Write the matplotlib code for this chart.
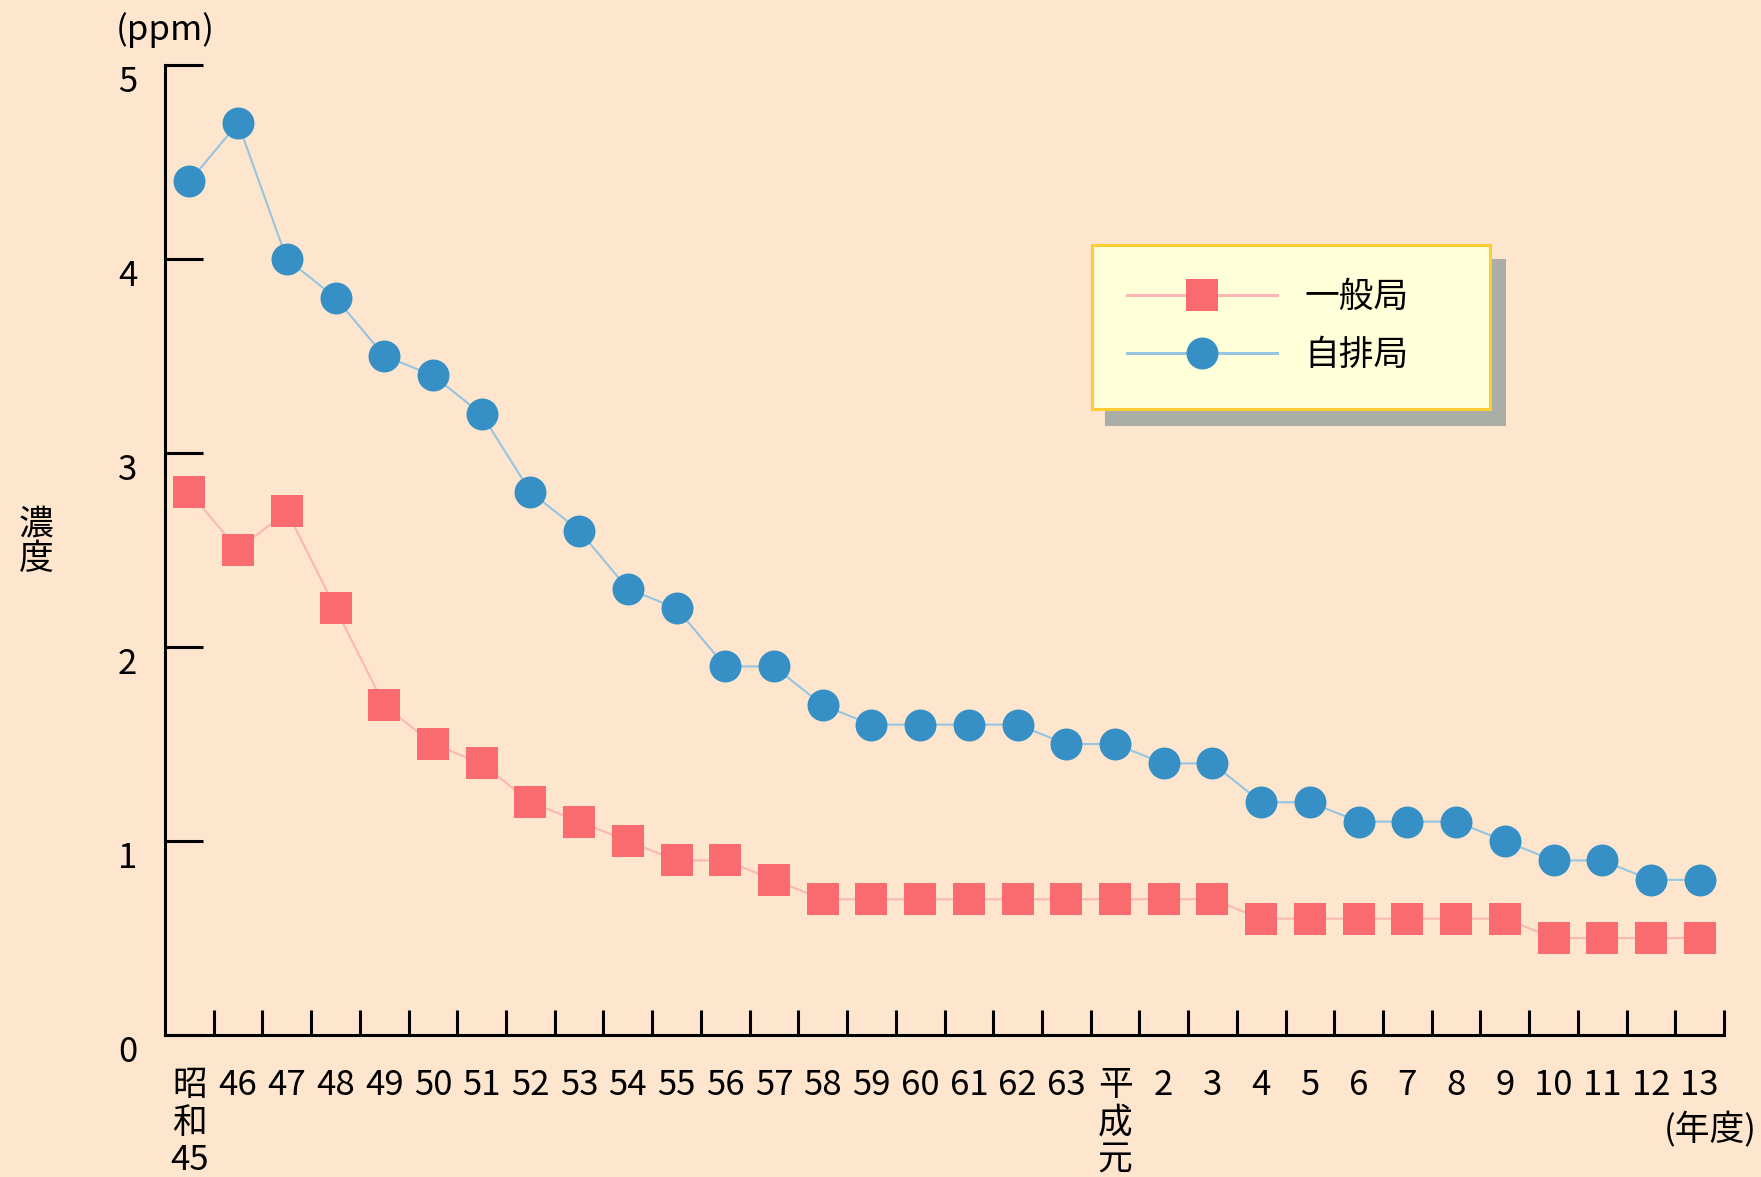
import matplotlib
matplotlib.use("Agg")
import matplotlib.pyplot as plt

plt.rcParams['font.family'] = ['Noto Sans CJK JP', 'DejaVu Sans']

# 年度ラベル（昭和45〜63、平成元〜13）
years = ["昭\n和\n45", "46", "47", "48", "49", "50", "51", "52", "53", "54",
         "55", "56", "57", "58", "59", "60", "61", "62", "63",
         "平\n成\n元", "2", "3", "4", "5", "6", "7", "8", "9",
         "10", "11", "12", "13"]

# 一般局 (ppm)
general = [2.8, 2.5, 2.7, 2.2, 1.7, 1.5, 1.4, 1.2, 1.1, 1.0,
           0.9, 0.9, 0.8, 0.7, 0.7, 0.7, 0.7, 0.7, 0.7,
           0.7, 0.7, 0.7, 0.6, 0.6, 0.6, 0.6, 0.6, 0.6,
           0.5, 0.5, 0.5, 0.5]

# 自排局 (ppm)
roadside = [4.4, 4.7, 4.0, 3.8, 3.5, 3.4, 3.2, 2.8, 2.6, 2.3,
            2.2, 1.9, 1.9, 1.7, 1.6, 1.6, 1.6, 1.6, 1.5,
            1.5, 1.4, 1.4, 1.2, 1.2, 1.1, 1.1, 1.1, 1.0,
            0.9, 0.9, 0.8, 0.8]

yticks = [0, 1, 2, 3, 4, 5]

BG = '#FDE5CE'
FS = 25

fig = plt.figure(figsize=(17.61, 11.77), dpi=100, facecolor=BG)
ax = fig.add_axes([0.0937, 0.1206, 0.979 - 0.0937, 0.9448 - 0.1206])
ax.set_facecolor(BG)

x = list(range(len(years)))
ax.plot(x, general, color='#FAB8B4', lw=1.5, marker='s', ms=23,
        mfc='#F96B6F', mec='#F96B6F', mew=0, label='一般局', zorder=3)
ax.plot(x, roadside, color='#96C5E1', lw=1.5, marker='o', ms=23,
        mfc='#3790C5', mec='#3790C5', mew=0, label='自排局', zorder=3)

ax.set_xlim(-0.5, len(years) - 0.5)
ax.set_ylim(0, 5)

for side in ('top', 'right'):
    ax.spines[side].set_visible(False)
for side in ('left', 'bottom'):
    ax.spines[side].set_linewidth(2.2)
    ax.spines[side].set_color('black')

ax.set_yticks(yticks)
ax.set_yticklabels([str(v) for v in yticks], fontsize=FS)
ax.tick_params(axis='y', direction='in', length=27, width=2.2, pad=20)
for lab in ax.get_yticklabels():
    lab.set_verticalalignment('top')

ax.set_xticks(x)
ax.set_xticklabels(years, fontsize=FS, va='top', linespacing=1.08)
ax.tick_params(axis='x', which='major', length=0, pad=24)
ax.set_xticks([i + 0.5 for i in x], minor=True)
ax.tick_params(axis='x', which='minor', direction='in', length=18, width=2.2)

fig.text(116 / 1761, 1 - 30 / 1177, '(ppm)', fontsize=FS, ha='left', va='center')
fig.text(36 / 1761, 1 - 543 / 1177, '濃\n度', fontsize=FS, ha='center', va='center',
         linespacing=0.95)
fig.text(1757 / 1761, 1 - 1130 / 1177, '(年度)', fontsize=FS, ha='right', va='center')

leg = ax.legend(loc='upper left',
                bbox_to_anchor=((1092 - 165) / 1559, (1035 - 245) / 970, 398 / 1559, 0),
                mode='expand', fontsize=FS, frameon=True, fancybox=False,
                framealpha=1, facecolor='#FFFFD9', edgecolor='#FFCC33',
                handlelength=4.3, handletextpad=0.8, borderpad=1.02,
                labelspacing=0.66, borderaxespad=0,
                shadow={'ox': 10, 'oy': -11, 'facecolor': '#AAAEA6',
                        'edgecolor': '#AAAEA6', 'alpha': 1})
leg.get_frame().set_linewidth(2.2)
for line in leg.get_lines():
    line.set_linewidth(2.2)

fig.savefig('out.png', dpi=100, facecolor=BG)
